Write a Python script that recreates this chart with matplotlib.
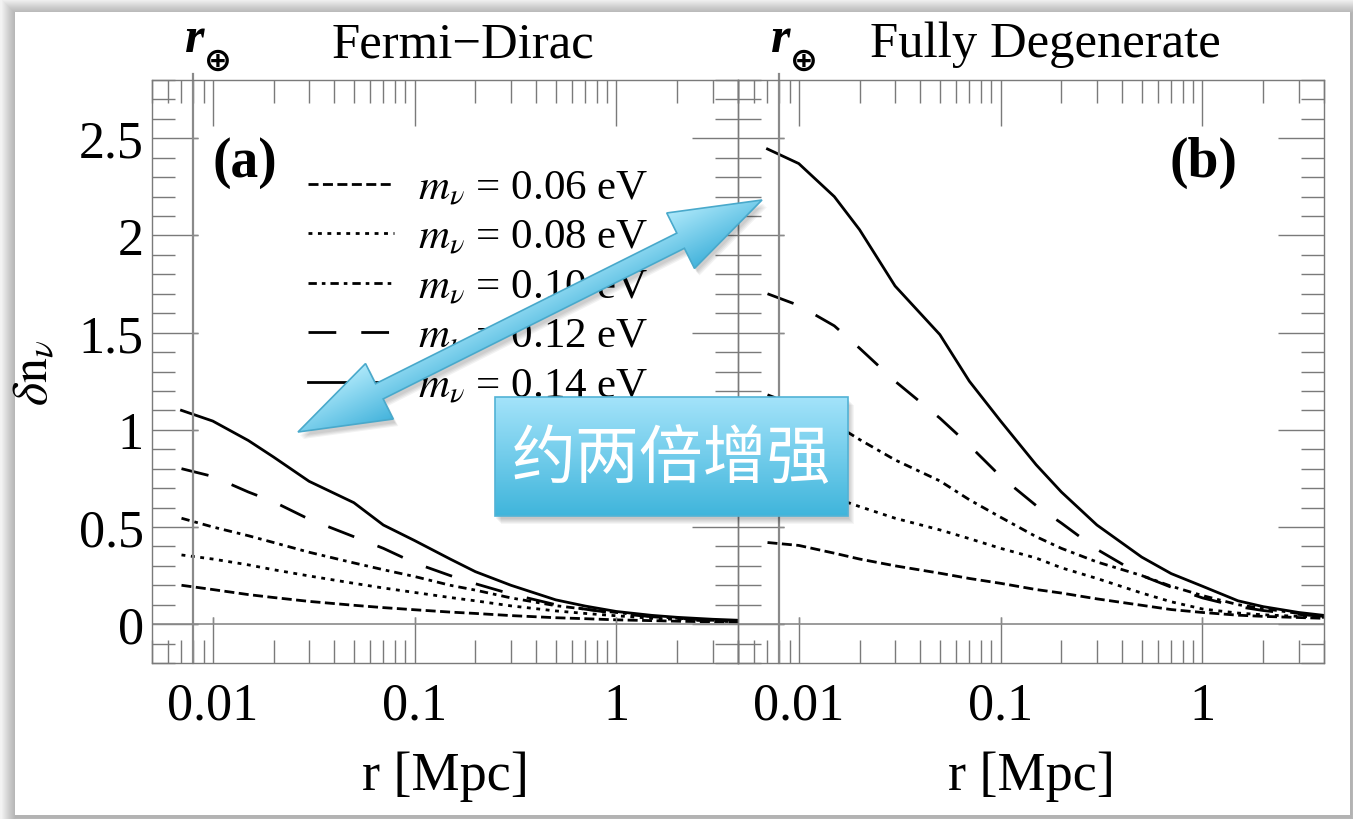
import numpy as np
import matplotlib.pyplot as plt
from matplotlib.ticker import LogLocator, MultipleLocator, NullFormatter
from matplotlib.patches import Rectangle, Polygon

plt.rcParams['font.family'] = ['Liberation Serif', 'DejaVu Serif']
plt.rcParams['mathtext.fontset'] = 'stix'

W, H = 1353, 820

# radius grid [Mpc] shared by all curves
r = [0.007, 0.01, 0.015, 0.02, 0.03, 0.05, 0.07, 0.1, 0.15, 0.2, 0.3,
     0.5, 0.7, 1.0, 1.5, 2.0, 3.0, 4.0]
r_earth = 0.008
masses = ['0.06', '0.08', '0.10', '0.12', '0.14']

# (a) Fermi-Dirac overdensity
fd_006 = [0.20, 0.178, 0.152, 0.137, 0.117, 0.097, 0.085, 0.074, 0.062, 0.055,
          0.044, 0.033, 0.028, 0.022, 0.018, 0.015, 0.012, 0.010]
fd_008 = [0.356, 0.335, 0.305, 0.28, 0.248, 0.21, 0.186, 0.163, 0.137, 0.12,
          0.094, 0.068, 0.055, 0.043, 0.030, 0.024, 0.016, 0.012]
fd_010 = [0.545, 0.50, 0.455, 0.42, 0.37, 0.315, 0.28, 0.245, 0.20, 0.175,
          0.135, 0.095, 0.077, 0.06, 0.04, 0.03, 0.02, 0.015]
fd_012 = [0.80, 0.76, 0.68, 0.63, 0.54, 0.45, 0.39, 0.315, 0.25, 0.208,
          0.155, 0.10, 0.077, 0.055, 0.038, 0.03, 0.02, 0.015]
fd_014 = [1.10, 1.045, 0.945, 0.86, 0.735, 0.625, 0.51, 0.43, 0.335, 0.27,
          0.20, 0.125, 0.093, 0.065, 0.045, 0.035, 0.025, 0.02]

# (b) fully degenerate overdensity
deg_006 = [0.42, 0.405, 0.365, 0.335, 0.30, 0.262, 0.235, 0.21, 0.178, 0.16,
           0.13, 0.097, 0.075, 0.06, 0.046, 0.04, 0.034, 0.03]
deg_008 = [0.78, 0.72, 0.65, 0.605, 0.545, 0.485, 0.44, 0.39, 0.34, 0.29,
           0.235, 0.16, 0.115, 0.078, 0.057, 0.048, 0.04, 0.035]
deg_010 = [1.18, 1.12, 1.03, 0.95, 0.845, 0.737, 0.64, 0.55, 0.45, 0.39,
           0.32, 0.25, 0.195, 0.147, 0.10, 0.08, 0.055, 0.04]
deg_012 = [1.70, 1.64, 1.535, 1.42, 1.25, 1.06, 0.92, 0.76, 0.61, 0.52,
           0.385, 0.25, 0.19, 0.135, 0.09, 0.07, 0.05, 0.04]
deg_014 = [2.445, 2.37, 2.20, 2.03, 1.74, 1.49, 1.25, 1.045, 0.82, 0.68,
           0.51, 0.345, 0.26, 0.195, 0.12, 0.09, 0.06, 0.045]

xtick_vals = [0.01, 0.1, 1]
xtick_labels = ['0.01', '0.1', '1']
ytick_vals = [0, 0.5, 1, 1.5, 2, 2.5]
ytick_labels = ['0', '0.5', '1', '1.5', '2', '2.5']

dash_styles = [(0, (3.6, 1.6)), (0, (1.4, 2.0)), (0, (3.0, 1.8, 1.3, 1.8)),
               (0, (10, 9)), '-']

fig = plt.figure(figsize=(W / 100, H / 100), dpi=100, facecolor='#f3f3f3')

# page card with soft shadow
bg = fig.add_axes([0, 0, 1, 1], zorder=0)
bg.set_xlim(0, W)
bg.set_ylim(H, 0)
bg.axis('off')
for i in range(14, 0, -1):
    bg.add_patch(Rectangle((15 - i + 1, 13 - i + 2), 1335 + 2 * i, 803 + 2 * i,
                           facecolor='black', edgecolor='none', alpha=0.018))
bg.add_patch(Rectangle((15, 13), 1335, 803, facecolor='white', edgecolor='none'))

grey = '#7a7a7a'


def style_axes(ax, with_labels):
    ax.set_xscale('log')
    ax.set_xlim(0.005, 4.0)
    ax.set_ylim(-0.2, 2.8)
    ax.set_xticks(xtick_vals, xtick_labels)
    ax.xaxis.set_minor_locator(LogLocator(base=10, subs=np.arange(2, 10), numticks=30))
    ax.xaxis.set_minor_formatter(NullFormatter())
    ax.set_yticks(ytick_vals, ytick_labels if with_labels else [])
    ax.yaxis.set_minor_locator(MultipleLocator(0.1))
    ax.tick_params(which='both', direction='in', top=True, right=True,
                   color=grey, width=1.0)
    ax.tick_params(which='major', length=33)
    ax.tick_params(which='minor', length=16.5)
    ax.tick_params(axis='x', which='major', labelsize=37.5, pad=13.5)
    ax.tick_params(axis='y', which='major', labelsize=37.5, pad=6)
    for s in ax.spines.values():
        s.set_color(grey)
        s.set_linewidth(1.0)
    # axes through the origin (r_earth, 0)
    ax.axhline(0, color='#8a8a8a', lw=1.2)
    ax.plot([r_earth, r_earth], [-0.2, 2.83], color='#8a8a8a', lw=1.6, clip_on=False)
    ax.vlines(xtick_vals, 0, 0.036, color='#8a8a8a', lw=1.0)
    ax.hlines(ytick_vals, r_earth, r_earth * 1.06, color='#8a8a8a', lw=1.0)
    ax.set_xlabel('r [Mpc]', fontsize=39)
    ax.xaxis.set_label_coords(0.5, -0.15)
    ax.annotate('r', xy=(r_earth, 1.0), xycoords=('data', 'axes fraction'),
                xytext=(1, 21), textcoords='offset points', ha='center',
                va='baseline', fontsize=36, fontweight='bold', style='italic')
    ax.annotate('\u2295', xy=(r_earth, 1.0), xycoords=('data', 'axes fraction'),
                xytext=(18, 14), textcoords='offset points', ha='center',
                va='center', fontsize=24, fontweight='bold',
                family=['DejaVu Sans'])


ax_a = fig.add_axes([152 / W, 1 - 664 / H, 586 / W, 583 / H], zorder=1)
ax_b = fig.add_axes([738 / W, 1 - 664 / H, 586 / W, 583 / H], zorder=1)
for ax in (ax_a, ax_b):
    ax.set_facecolor('none')

lines_a = []
for vals, ls in zip([fd_006, fd_008, fd_010, fd_012, fd_014], dash_styles):
    ln, = ax_a.plot(r, vals, color='black', lw=2.0, linestyle=ls)
    lines_a.append(ln)
for vals, ls in zip([deg_006, deg_008, deg_010, deg_012, deg_014], dash_styles):
    ax_b.plot(r, vals, color='black', lw=2.0, linestyle=ls)

style_axes(ax_a, True)
style_axes(ax_b, False)

ax_a.set_ylabel(r'$\delta\mathrm{n}_\nu$', fontsize=36)
ax_a.yaxis.set_label_coords(-0.16, 0.50)

ax_a.text(0.531, 1.041, 'Fermi\u2212Dirac', transform=ax_a.transAxes,
          ha='center', va='baseline', fontsize=36.5)
ax_b.text(0.524, 1.041, 'Fully Degenerate', transform=ax_b.transAxes,
          ha='center', va='baseline', fontsize=36.5)
ax_a.text(0.104, 0.859, '(a)', transform=ax_a.transAxes, ha='left',
          va='center', fontsize=40, fontweight='bold')
ax_b.text(0.852, 0.859, '(b)', transform=ax_b.transAxes, ha='right',
          va='center', fontsize=40, fontweight='bold')

ax_a.legend(lines_a, [r'$m_\nu$' + ' = %s eV' % m for m in masses],
            loc='upper left', bbox_to_anchor=(0.266, 0.848), frameon=False,
            fontsize=31, handlelength=2.0, handletextpad=0.55,
            labelspacing=0.24, borderpad=0, borderaxespad=0)

# callout: double arrow and label box
fg = fig.add_axes([0, 0, 1, 1], zorder=5)
fg.set_xlim(0, W)
fg.set_ylim(H, 0)
fg.axis('off')

light = np.array([0.68, 0.91, 0.98])
dark = np.array([0.26, 0.70, 0.86])

p0 = np.array([298.0, 433.0])
p1 = np.array([762.0, 201.0])
u = (p1 - p0) / np.hypot(*(p1 - p0))
n = np.array([-u[1], u[0]])
if n[1] < 0:
    n = -n
head_len, head_hw, shaft_hw = 91.0, 31.0, 8.5
pts = [p0,
       p0 + u * head_len - n * head_hw, p0 + u * head_len - n * shaft_hw,
       p1 - u * head_len - n * shaft_hw, p1 - u * head_len - n * head_hw,
       p1,
       p1 - u * head_len + n * head_hw, p1 - u * head_len + n * shaft_hw,
       p0 + u * head_len + n * shaft_hw, p0 + u * head_len + n * head_hw]
pts = np.array(pts)

for k in range(4):
    fg.add_patch(Polygon(pts + np.array([2 + k, 4 + k]), closed=True,
                         facecolor='black', edgecolor='none', alpha=0.05, zorder=1))

x0, x1 = pts[:, 0].min() - 2, pts[:, 0].max() + 2
y0, y1 = pts[:, 1].min() - 2, pts[:, 1].max() + 2
gx, gy = np.meshgrid(np.arange(x0, x1), np.arange(y0, y1))
d = (gx - p0[0]) * n[0] + (gy - p0[1]) * n[1]
t = np.clip((d + head_hw) / (2 * head_hw), 0, 1)[..., None]
arrow_img = light * (1 - t) + dark * t
arrow_poly = Polygon(pts, closed=True, facecolor='none', edgecolor='#49a9cb',
                     lw=1.2, zorder=3)
im = fg.imshow(arrow_img, extent=(x0, x1, y1, y0), origin='upper',
               aspect='auto', interpolation='bilinear', zorder=2)
fg.add_patch(arrow_poly)
im.set_clip_path(arrow_poly)

bx0, bx1, by0, by1 = 495, 848, 398, 517
for k in range(6):
    fg.add_patch(Rectangle((bx0 + 1 + k, by0 + 3 + k), bx1 - bx0, by1 - by0,
                           facecolor='black', edgecolor='none', alpha=0.04, zorder=1))
tb = np.linspace(0, 1, 120)[:, None, None]
box_img = np.array([0.64, 0.89, 0.98]) * (1 - tb) + np.array([0.25, 0.71, 0.86]) * tb
fg.imshow(box_img, extent=(bx0, bx1, by1, by0), origin='upper', aspect='auto', zorder=2)
fg.add_patch(Rectangle((bx0, by0), bx1 - bx0, by1 - by0, facecolor='none',
                       edgecolor='#52b3d6', lw=1.2, zorder=3))
fg.text((bx0 + bx1) / 2, (by0 + by1) / 2 + 2, '约两倍增强', color='white',
        fontsize=46, family=['Noto Sans CJK SC', 'DejaVu Sans'],
        ha='center', va='center', zorder=4)
fg.set_xlim(0, W)
fg.set_ylim(H, 0)

fig.savefig('out.png', dpi=100, facecolor=fig.get_facecolor())
